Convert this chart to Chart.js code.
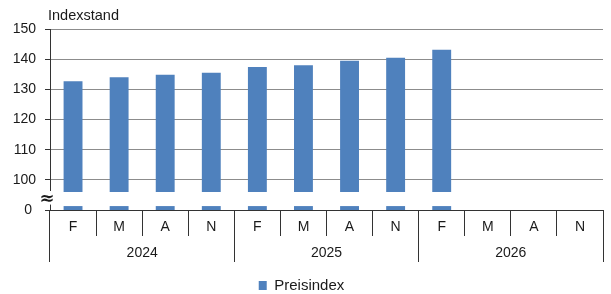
<!DOCTYPE html>
<html>
<head>
<meta charset="utf-8">
<script src="https://cdn.jsdelivr.net/npm/chart.js@4"></script>
<style>
html,body{margin:0;padding:0;background:#fff;}
#wrap{width:611px;height:294px;}
</style>
</head>
<body>
<div id="wrap"><canvas id="c" width="611" height="294"></canvas></div>
<script>
const categories = ['F','M','A','N','F','M','A','N','F','M','A','N'];
const years = ['2024','2025','2026'];
const values = [132.7, 134.0, 134.8, 135.5, 137.4, 138.0, 139.5, 140.5, 143.1, null, null, null];
const seriesName = 'Preisindex';
const yTitle = 'Indexstand';
const yTickValues = [90, 100, 110, 120, 130, 140, 150];
const zeroAt = 90;      // axis position that shows "0"
const breakTop = 96;    // lower end of the main bar part
const stubTop = 91.3;   // top of the stub below the break

const BLUE = '#4f81bd';
const TXT = '#1a1a1a';
const AX = '#333333';
const FONT = {family: '"Liberation Sans", Arial, sans-serif', size: 14};

const mainData = values.map(v => v == null ? null : [breakTop, v]);
const stubData = values.map(v => v == null ? null : [zeroAt, stubTop]);

const breakPlugin = {
  id: 'breakPlugin',
  afterDraw(chart) {
    const ctx = chart.ctx;
    const y = chart.scales.y;
    const area = chart.chartArea;
    const yHi = y.getPixelForValue(breakTop + 0.3);
    const yLo = y.getPixelForValue(stubTop + 0.5);
    ctx.save();
    ctx.fillStyle = '#fff';
    ctx.fillRect(area.left - 8, yHi, 12, yLo - yHi);
    ctx.fillStyle = TXT;
    ctx.font = 'bold 18px "DejaVu Sans", sans-serif';
    ctx.textAlign = 'center';
    ctx.textBaseline = 'middle';
    ctx.fillText('\u2248', area.left - 3, (yHi + yLo) / 2 + 2);
    // axis title
    ctx.font = '14.5px "Liberation Sans", Arial, sans-serif';
    ctx.textAlign = 'left';
    ctx.textBaseline = 'middle';
    ctx.fillText(yTitle, area.left - 2, 16);
    ctx.restore();
  }
};

new Chart(document.getElementById('c'), {
  type: 'bar',
  data: {
    labels: categories,
    datasets: [
      {label: seriesName, data: mainData, backgroundColor: BLUE, borderWidth: 0,
       grouped: false, categoryPercentage: 0.82, barPercentage: 0.5},
      {label: 'stub', data: stubData, backgroundColor: BLUE, borderWidth: 0,
       grouped: false, categoryPercentage: 0.82, barPercentage: 0.5}
    ]
  },
  options: {
    responsive: false,
    animation: false,
    devicePixelRatio: 1,
    layout: {padding: {top: 29, right: 8, left: 0, bottom: -9}},
    plugins: {
      legend: {
        position: 'bottom',
        labels: {
          font: {family: FONT.family, size: 15}, color: TXT, boxWidth: 8, boxHeight: 9, padding: 2,
          filter: item => item.datasetIndex === 0
        }
      },
      tooltip: {enabled: false},
      title: {display: false}
    },
    scales: {
      y: {
        type: 'linear',
        min: 90, max: 150,
        afterBuildTicks: s => { s.ticks = yTickValues.map(v => ({value: v})); },
        afterFit: s => { s.width = 50; },
        ticks: {
          font: FONT, color: TXT, padding: 9,
          callback: v => v === zeroAt ? '0 ' : String(v)
        },
        grid: {
          color: c => (c.tick && c.tick.value === zeroAt) ? 'rgba(0,0,0,0)' : '#8c8c8c',
          lineWidth: 1,
          tickColor: AX,
          tickLength: 5
        },
        border: {display: true, color: AX, width: 1}
      },
      x: {
        type: 'category',
        position: 'bottom',
        weight: 1,
        offset: true,
        afterFit: s => { s.height = 26; },
        ticks: {font: FONT, color: TXT, padding: -17, maxRotation: 0, autoSkip: false},
        grid: {offset: true, drawOnChartArea: false, drawTicks: true, tickLength: 26, color: AX, tickColor: AX},
        border: {display: true, color: AX, width: 1}
      },
      x2: {
        type: 'category',
        position: 'bottom',
        weight: 2,
        labels: years,
        offset: true,
        afterFit: s => { s.height = 40; },
        ticks: {font: FONT, color: TXT, padding: -17, maxRotation: 0, autoSkip: false},
        grid: {offset: true, drawOnChartArea: false, drawTicks: true, tickLength: 26, color: AX, tickColor: AX},
        border: {display: false}
      }
    }
  },
  plugins: [breakPlugin]
});
</script>
</body>
</html>
